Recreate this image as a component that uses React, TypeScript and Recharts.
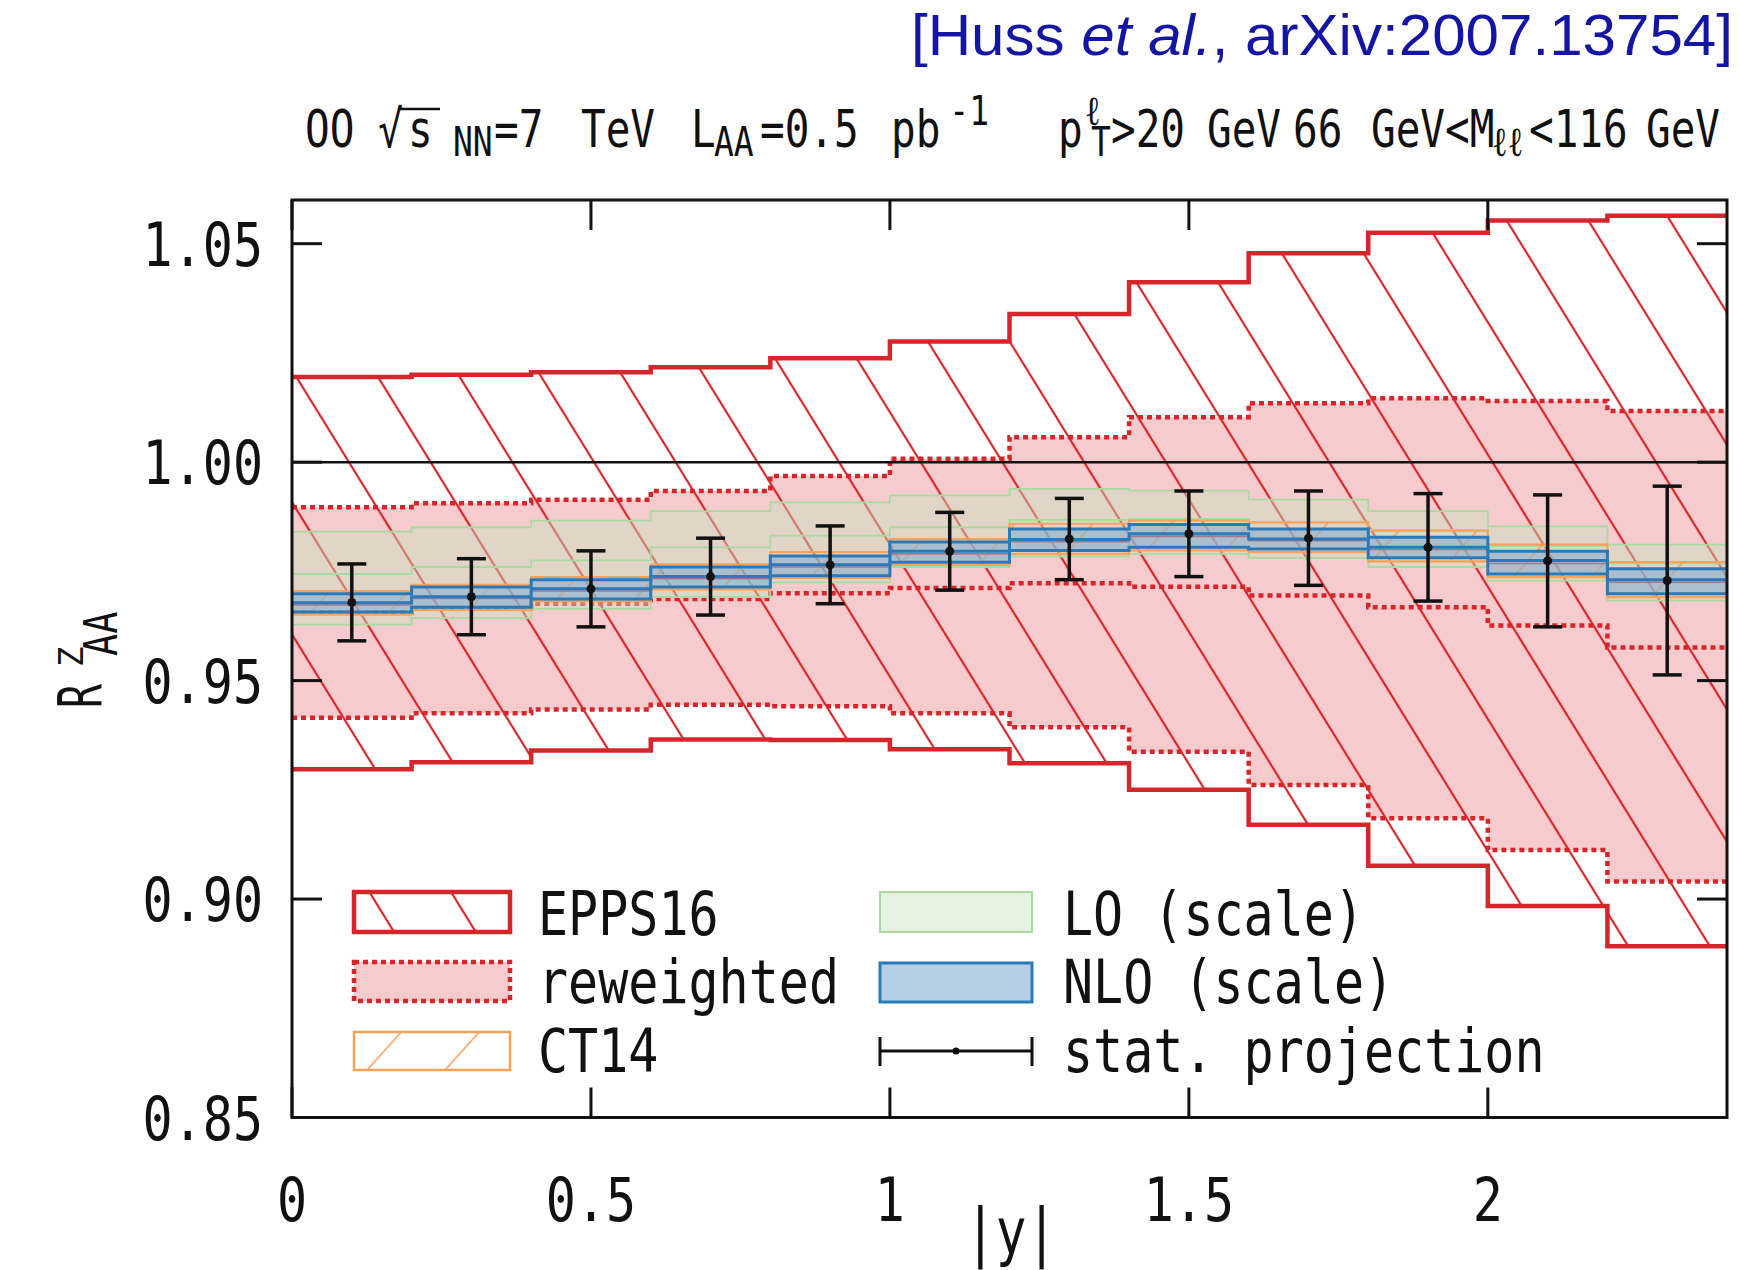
import React from 'react';
import {
  ComposedChart,
  Area,
  Scatter,
  ErrorBar,
  XAxis,
  YAxis,
  ReferenceLine,
  ReferenceArea,
} from 'recharts';

// ---- binning in |y| ----
const binEdges = [0, 0.2, 0.4, 0.6, 0.8, 1.0, 1.2, 1.4, 1.6, 1.8, 2.0, 2.2, 2.4];
const binCenters = [0.1, 0.3, 0.5, 0.7, 0.9, 1.1, 1.3, 1.5, 1.7, 1.9, 2.1, 2.3];

// ---- EPPS16 nPDF uncertainty ----
const eppsUpper = [1.0195, 1.02, 1.0206, 1.0217, 1.0238, 1.0276, 1.0339, 1.0412, 1.0478, 1.0525, 1.0553, 1.0564];
const eppsLower = [0.9297, 0.9313, 0.934, 0.9365, 0.9364, 0.9343, 0.9311, 0.925, 0.917, 0.9076, 0.8984, 0.8892];
const eppsMiddle = [0.9673, 0.9688, 0.9705, 0.9733, 0.976, 0.979, 0.9818, 0.983, 0.982, 0.98, 0.9768, 0.9725];

// ---- reweighted EPPS16 ----
const rewUpper = [0.9897, 0.9906, 0.9914, 0.9934, 0.9968, 1.0008, 1.0057, 1.0103, 1.0135, 1.0146, 1.014, 1.0117];
const rewLower = [0.9415, 0.9425, 0.9434, 0.9445, 0.9441, 0.9425, 0.9393, 0.9337, 0.9261, 0.9185, 0.9112, 0.904];
const rewMiddle = [0.9656, 0.9666, 0.9676, 0.9687, 0.97, 0.9712, 0.9723, 0.9715, 0.9695, 0.9668, 0.9626, 0.9576];

// ---- LO scale variation ----
const loUpper = [0.9841, 0.9851, 0.9866, 0.9888, 0.9908, 0.9924, 0.9939, 0.9935, 0.9914, 0.9888, 0.9853, 0.9811];
const loLower = [0.9628, 0.9643, 0.9664, 0.9691, 0.9725, 0.976, 0.9784, 0.979, 0.9781, 0.976, 0.9729, 0.9683];
const loMiddle = [0.9744, 0.976, 0.9775, 0.9805, 0.9832, 0.9851, 0.9868, 0.987, 0.9862, 0.9845, 0.9808, 0.9768];

// ---- CT14 PDF uncertainty ----
const ct14Upper = [0.9705, 0.9719, 0.9737, 0.9766, 0.9794, 0.9824, 0.9859, 0.9866, 0.9862, 0.9843, 0.9811, 0.9771];
const ct14Lower = [0.9651, 0.9662, 0.9682, 0.9709, 0.9735, 0.9765, 0.979, 0.9798, 0.9794, 0.9773, 0.9737, 0.9691];

// ---- NLO scale variation ----
const nloUpper = [0.9699, 0.9714, 0.9731, 0.976, 0.9785, 0.9817, 0.9847, 0.9857, 0.9847, 0.9828, 0.9796, 0.9756];
const nloLower = [0.9657, 0.9668, 0.9687, 0.9714, 0.974, 0.9771, 0.9798, 0.9805, 0.9801, 0.9781, 0.9744, 0.9699];
const nloMiddle = [0.9678, 0.9692, 0.971, 0.9738, 0.9765, 0.9796, 0.9823, 0.9836, 0.9824, 0.9805, 0.9775, 0.9731];

// ---- projected statistical uncertainty ----
const statCentral = [0.9679, 0.9692, 0.971, 0.9738, 0.9765, 0.9796, 0.9824, 0.9836, 0.9826, 0.9805, 0.9774, 0.9729];
const statError = [0.0088, 0.0087, 0.0087, 0.0088, 0.0089, 0.0089, 0.0093, 0.0098, 0.0108, 0.0123, 0.0151, 0.0216];

// ---- axes ----
const xTicks = [0, 0.5, 1, 1.5, 2];
const xTickLabels = ['0', '0.5', '1', '1.5', '2'];
const yTicks = [0.85, 0.9, 0.95, 1.0, 1.05];
const xDomain = [0, 2.4];
const yDomain = [0.85, 1.06];

// ---- styling ----
const RED = '#d7262b';
const PINK = '#f5cbcd';
const GREEN_EDGE = '#a9da9f';
const GREEN_FILL = 'rgba(200,226,190,0.45)';
const BLUE = '#2a7ab9';
const BLUE_FILL = 'rgba(133,175,210,0.6)';
const ORANGE = '#f9a25b';
const INK = '#111';
const MONO = '"DejaVu Sans Mono", monospace';

const W = 1740;
const H = 1270;
// axis boxes are 1px thick, so the plot spans x 292..1727 and y 200..1117.5
const MARGIN = { top: 200, right: 13, bottom: 151.5, left: 291 };
const PLOT_TOP = MARGIN.top;
const PLOT_RIGHT = W - MARGIN.right;
const TICK_LEN = 30;

// Each bin edge carries the value of the bin starting there; the last edge repeats the final bin
const stepRows = binEdges.map((x, i) => {
  const b = Math.min(i, binCenters.length - 1);
  return {
    x,
    epps: [eppsLower[b], eppsUpper[b]],
    eppsMid: eppsMiddle[b],
    rew: [rewLower[b], rewUpper[b]],
    rewMid: rewMiddle[b],
    lo: [loLower[b], loUpper[b]],
    loMid: loMiddle[b],
    ct14: [ct14Lower[b], ct14Upper[b]],
    nlo: [nloLower[b], nloUpper[b]],
    nloMid: nloMiddle[b],
  };
});

const statRows = binCenters.map((x, i) => ({ x, y: statCentral[i], err: statError[i] }));

type TxtProps = {
  x: number;
  y: number;
  size: number;
  sy?: number;
  anchor?: 'start' | 'middle' | 'end';
  fill?: string;
  family?: string;
  children: React.ReactNode;
};

// Monospace text stretched vertically, as used by the plot's terminal font
function StretchText({ x, y, size, sy = 1.2, anchor = 'start', fill = INK, family = MONO, children }: TxtProps) {
  return (
    <text
      transform={`translate(${x} ${y}) scale(1 ${sy})`}
      fontSize={size}
      fontFamily={family}
      textAnchor={anchor}
      fill={fill}
    >
      {children}
    </text>
  );
}

function XTick(props: any) {
  const { x, y, index } = props;
  return (
    <g>
      <line x1={x} x2={x} y1={y} y2={y - TICK_LEN} stroke={INK} strokeWidth={3} />
      <line x1={x} x2={x} y1={PLOT_TOP} y2={PLOT_TOP + TICK_LEN} stroke={INK} strokeWidth={3} />
      <StretchText x={x} y={y + 103.5} size={50} anchor="middle">
        {xTickLabels[index]}
      </StretchText>
    </g>
  );
}

function YTick(props: any) {
  const { x, y, payload } = props;
  return (
    <g>
      <line x1={x} x2={x + TICK_LEN} y1={y} y2={y} stroke={INK} strokeWidth={3} />
      <line x1={PLOT_RIGHT - TICK_LEN} x2={PLOT_RIGHT} y1={y} y2={y} stroke={INK} strokeWidth={3} />
      <StretchText x={x - 29} y={y + 22} size={50} anchor="end">
        {Number(payload.value).toFixed(2)}
      </StretchText>
    </g>
  );
}

function StatDot(props: any) {
  const { cx, cy } = props;
  return <circle cx={cx} cy={cy} r={4.5} fill={INK} />;
}

function Patterns() {
  return (
    <defs>
      <pattern
        id="eppsHatch"
        patternUnits="userSpaceOnUse"
        width={69.5}
        height={20}
        patternTransform="translate(1328.3 460.7) rotate(-31.7)"
      >
        <rect x={-1.1} y={-1} width={2.2} height={22} fill={RED} />
        <rect x={68.4} y={-1} width={2.2} height={22} fill={RED} />
      </pattern>
      <pattern
        id="ct14Hatch"
        patternUnits="userSpaceOnUse"
        width={58}
        height={20}
        patternTransform="translate(400 600) rotate(42)"
      >
        <rect x={-0.8} y={-1} width={1.6} height={22} fill={ORANGE} />
        <rect x={57.2} y={-1} width={1.6} height={22} fill={ORANGE} />
      </pattern>
    </defs>
  );
}

function Header() {
  const base = 147;
  const sub = 156;
  const sup = 125;
  const big = 41;
  const small = 33;
  const sy = 1.25;
  return (
    <g>
      <text
        x={911}
        y={55}
        fontFamily='"Liberation Sans", Arial, sans-serif'
        fontSize={57}
        fill="#1515a3"
        textLength={822}
        lengthAdjust="spacingAndGlyphs"
      >
        [Huss <tspan fontStyle="italic">et al.</tspan>, arXiv:2007.13754]
      </text>

      <StretchText x={305} y={base} size={big} sy={sy}>OO</StretchText>
      <StretchText x={378} y={base} size={big} sy={sy}>√</StretchText>
      <StretchText x={408} y={base} size={big} sy={sy}>s</StretchText>
      <line x1={399} x2={440} y1={109} y2={109} stroke={INK} strokeWidth={2.5} />
      <StretchText x={453} y={sub} size={small} sy={sy}>NN</StretchText>
      <StretchText x={494} y={base} size={big} sy={sy}>=7</StretchText>
      <StretchText x={581} y={base} size={big} sy={sy}>TeV</StretchText>
      <StretchText x={691} y={base} size={big} sy={sy}>L</StretchText>
      <StretchText x={714} y={sub} size={small} sy={sy}>AA</StretchText>
      <StretchText x={760} y={base} size={big} sy={sy}>=0.5</StretchText>
      <StretchText x={891} y={base} size={big} sy={sy}>
        pb
        <tspan dx={9} dy={-(base - sup) / sy} fontSize={small}>-1</tspan>
      </StretchText>

      <StretchText x={1058} y={base} size={big} sy={sy}>p</StretchText>
      <StretchText x={1085} y={sup} size={small} sy={sy}>ℓ</StretchText>
      <StretchText x={1091} y={sub} size={small} sy={sy}>T</StretchText>
      <StretchText x={1111} y={base} size={big} sy={sy}>&gt;20</StretchText>
      <StretchText x={1207} y={base} size={big} sy={sy}>GeV</StretchText>
      <StretchText x={1293} y={base} size={big} sy={sy}>66</StretchText>
      <StretchText x={1371} y={base} size={big} sy={sy}>GeV&lt;M</StretchText>
      <StretchText x={1492} y={sub} size={small} sy={sy}>ℓℓ</StretchText>
      <StretchText x={1529} y={base} size={big} sy={sy}>&lt;116</StretchText>
      <StretchText x={1646} y={base} size={big} sy={sy}>GeV</StretchText>
    </g>
  );
}

function AxisTitles() {
  const ox = 101.7;
  const oy = 708;
  return (
    <g>
      {/* R^Z_AA, reading upwards */}
      <g transform={`translate(${ox} ${oy}) rotate(-90)`}>
        <text transform="scale(1 1.5)" fontSize={40} fontFamily={MONO} fill={INK}>R</text>
        <text transform="translate(41 -19) scale(1 1.0)" fontSize={34} fontFamily={MONO} fill={INK}>Z</text>
        <text transform="translate(52 15) scale(1 1.25)" fontSize={37} fontFamily={MONO} fill={INK}>AA</text>
      </g>
      <StretchText x={1011} y={1254} size={51} sy={1.25} anchor="middle">|y|</StretchText>
    </g>
  );
}

function LegendBlock() {
  const size = 50;
  return (
    <g>
      <rect x={354} y={892} width={156} height={40} fill="#fff" />
      <rect x={354} y={892} width={156} height={40} fill="url(#eppsHatch)" stroke={RED} strokeWidth={4.5} />
      <StretchText x={538} y={935} size={size}>EPPS16</StretchText>

      <rect x={354} y={962} width={156} height={39} fill={PINK} stroke={RED} strokeWidth={4.5} strokeDasharray="5 4" />
      <StretchText x={538} y={1003} size={size}>reweighted</StretchText>

      <rect x={354} y={1032} width={156} height={38} fill="url(#ct14Hatch)" stroke={ORANGE} strokeWidth={2.5} />
      <StretchText x={538} y={1072} size={size}>CT14</StretchText>

      <rect x={880} y={892} width={152} height={40} fill={GREEN_FILL} stroke={GREEN_EDGE} strokeWidth={2} />
      <StretchText x={1063} y={935} size={size}>LO (scale)</StretchText>

      <rect x={880} y={963} width={152} height={39} fill={BLUE_FILL} stroke={BLUE} strokeWidth={3} />
      <StretchText x={1063} y={1003} size={size}>NLO (scale)</StretchText>

      <line x1={880} x2={1032} y1={1051} y2={1051} stroke={INK} strokeWidth={3} />
      <line x1={880} x2={880} y1={1037} y2={1066} stroke={INK} strokeWidth={3} />
      <line x1={1032} x2={1032} y1={1037} y2={1066} stroke={INK} strokeWidth={3} />
      <circle cx={956} cy={1051} r={3.5} fill={INK} />
      <StretchText x={1063} y={1072} size={size}>stat. projection</StretchText>
    </g>
  );
}

export default function App() {
  return (
    <div style={{ position: 'absolute', left: 0, top: 0, width: W, height: H, background: '#fff' }}>
      <ComposedChart width={W} height={H} data={stepRows} margin={MARGIN}>
        {/* reweighted band fill */}
        <Area dataKey="rew" type="stepAfter" fill={PINK} fillOpacity={1} stroke="none" isAnimationActive={false} />
        {/* EPPS16 hatched band */}
        <Area dataKey="epps" type="stepAfter" fill="url(#eppsHatch)" fillOpacity={1} stroke="none" isAnimationActive={false} />
        <Area
          dataKey="rewMid"
          type="stepAfter"
          fill="none"
          stroke={RED}
          strokeWidth={4.5}
          strokeDasharray="5 4"
          isAnimationActive={false}
        />
        <ReferenceLine y={1} stroke={INK} strokeWidth={2.5} />

        {/* LO scale band */}
        <Area dataKey="lo" type="stepAfter" fill={GREEN_FILL} fillOpacity={1} stroke={GREEN_EDGE} strokeWidth={1.8} isAnimationActive={false} />
        <Area dataKey="loMid" type="stepAfter" fill="none" stroke={GREEN_EDGE} strokeWidth={1.8} isAnimationActive={false} />

        {/* CT14 band */}
        <Area dataKey="ct14" type="stepAfter" fill="url(#ct14Hatch)" fillOpacity={1} stroke={ORANGE} strokeWidth={2.2} isAnimationActive={false} />
        <Area dataKey="eppsMid" type="stepAfter" fill="none" stroke={RED} strokeWidth={1.6} isAnimationActive={false} />

        {/* NLO scale band */}
        <Area dataKey="nlo" type="stepAfter" fill={BLUE_FILL} fillOpacity={1} stroke={BLUE} strokeWidth={3} isAnimationActive={false} />
        <Area dataKey="nloMid" type="stepAfter" fill="none" stroke={BLUE} strokeWidth={3} isAnimationActive={false} />

        {/* band outlines */}
        <Area dataKey="epps" type="stepAfter" fill="none" stroke={RED} strokeWidth={4.5} isAnimationActive={false} />
        <Area
          dataKey="rew"
          type="stepAfter"
          fill="none"
          stroke={RED}
          strokeWidth={4.5}
          strokeDasharray="5 4"
          isAnimationActive={false}
        />

        {/* projected statistical uncertainty */}
        <Scatter data={statRows} dataKey="y" fill={INK} shape={<StatDot />} isAnimationActive={false}>
          <ErrorBar dataKey="err" direction="y" width={14.5} stroke={INK} strokeWidth={3.5} isAnimationActive={false} />
        </Scatter>

        <ReferenceArea
          x1={xDomain[0]}
          x2={xDomain[1]}
          y1={yDomain[0]}
          y2={yDomain[1]}
          fill="none"
          fillOpacity={0}
          stroke={INK}
          strokeWidth={3}
        />

        <XAxis
          dataKey="x"
          type="number"
          domain={xDomain}
          ticks={xTicks}
          interval={0}
          allowDataOverflow
          height={1}
          tickSize={0}
          tickMargin={0}
          axisLine={false}
          tickLine={false}
          tick={(p: any) => <XTick {...p} />}
        />
        <YAxis
          type="number"
          domain={yDomain}
          ticks={yTicks}
          interval={0}
          allowDataOverflow
          width={1}
          tickSize={0}
          tickMargin={0}
          axisLine={false}
          tickLine={false}
          tick={(p: any) => <YTick {...p} />}
        />
      </ComposedChart>

      <svg width={W} height={H} style={{ position: 'absolute', left: 0, top: 0, pointerEvents: 'none' }}>
        <Patterns />
        <Header />
        <AxisTitles />
        <LegendBlock />
      </svg>
    </div>
  );
}
